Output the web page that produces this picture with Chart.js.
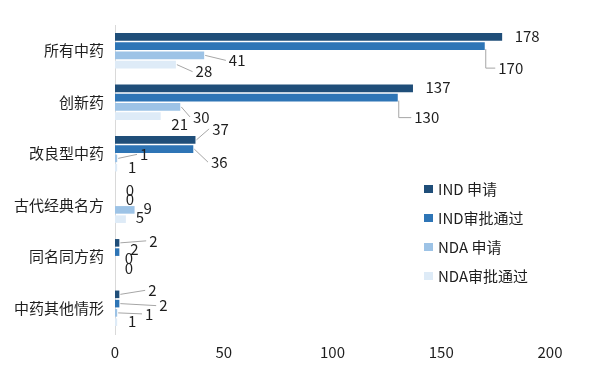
<!DOCTYPE html>
<html>
<head>
<meta charset="utf-8">
<script src="https://cdn.jsdelivr.net/npm/chart.js@4.4.0/dist/chart.umd.min.js"></script>
<style>
  html, body { margin: 0; padding: 0; background: #fff; }
  #wrap { width: 602px; height: 385px; position: relative; }
</style>
</head>
<body>
<div id="wrap"><canvas id="chart"></canvas></div>
<script>
// categorías y series
const categories = ['所有中药', '创新药', '改良型中药', '古代经典名方', '同名同方药', '中药其他情形'];
const seriesNames = ['IND 申请', 'IND审批通过', 'NDA 申请', 'NDA审批通过'];
const indApply = [178, 137, 37, 0, 2, 2];
const indApproved = [170, 130, 36, 0, 2, 2];
const ndaApply = [41, 30, 1, 9, 0, 1];
const ndaApproved = [28, 21, 1, 5, 0, 1];
const xTicks = [0, 50, 100, 150, 200];

const colors = ['#1f4e79', '#2e75b6', '#9dc3e6', '#deebf7'];

// desplazamiento de etiquetas [dx, dy, tipo de línea guía] (0 = nada, 1 = recta, 2 = codo)
const labelOffsets = [
    [[25, -1, 0], [25, -1, 0], [25, -11, 1], [15, -1, 0], [34, -2, 1], [33, -4, 1]],
    [[26, 22, 2], [29, 20, 2], [26, 13, 1], [15, -1, 0], [15, -3, 0], [44, 2, 1]],
    [[33, 5, 1], [21, 10, 1], [27, -4, 1], [13, -2, 0], [14, -3, 0], [32, 1, 1]],
    [[28, 7, 1], [19, 8, 0], [15, 0, 0], [14, -2, 0], [14, -2, 0], [15, -1, 0]]
];

const FONT = '"Noto Sans CJK SC", "Noto Sans", sans-serif';
const TEXT = '#1e1e1e';

const valueLabels = {
    id: 'valueLabels',
    afterDatasetsDraw(chart) {
        const c = chart.ctx;
        c.save();
        c.font = '15px ' + FONT;
        c.textBaseline = 'middle';
        c.textAlign = 'center';
        chart.data.datasets.forEach((ds, di) => {
            const meta = chart.getDatasetMeta(di);
            meta.data.forEach((bar, i) => {
                const [dx, dy, kind] = labelOffsets[di][i];
                const txt = String(ds.data[i]);
                const lx = bar.x + dx, ly = bar.y + dy;
                const w = c.measureText(txt).width;
                if (kind) {
                    c.strokeStyle = '#a6a6a6';
                    c.lineWidth = 1;
                    c.beginPath();
                    if (kind === 2) {
                        c.moveTo(bar.x + 1, bar.y + 3);
                        c.lineTo(bar.x + 1, ly);
                        c.lineTo(lx - w / 2 - 3, ly);
                    } else {
                        c.moveTo(bar.x + 1, bar.y);
                        c.lineTo(lx - w / 2 - 3, ly);
                    }
                    c.stroke();
                }
                c.fillStyle = TEXT;
                c.fillText(txt, lx, ly);
            });
        });
        c.restore();
    }
};

// leyenda dibujada a mano dentro del área
const sideLegend = {
    id: 'sideLegend',
    afterDraw(chart) {
        const c = chart.ctx;
        const x = chart.chartArea.right - 126;
        c.save();
        c.font = '15px ' + FONT;
        c.textBaseline = 'middle';
        c.textAlign = 'left';
        chart.data.datasets.forEach((ds, i) => {
            const y = 189 + i * 29;
            c.fillStyle = ds.backgroundColor;
            c.fillRect(x, y - 4, 9, 8);
            c.fillStyle = TEXT;
            c.fillText(ds.label, x + 14, y);
        });
        c.restore();
    }
};

new Chart(document.getElementById('chart'), {
    type: 'bar',
    data: {
        labels: categories,
        datasets: [indApply, indApproved, ndaApply, ndaApproved].map((d, i) => ({
            label: seriesNames[i],
            data: d,
            backgroundColor: colors[i],
            categoryPercentage: 0.72,
            barPercentage: 0.82
        }))
    },
    options: {
        indexAxis: 'y',
        responsive: true,
        maintainAspectRatio: false,
        animation: false,
        layout: { padding: { top: 25, right: 52, left: 0, bottom: 0 } },
        plugins: { legend: { display: false }, tooltip: { enabled: false } },
        scales: {
            x: {
                min: 0,
                max: 200,
                afterBuildTicks: s => { s.ticks = xTicks.map(v => ({ value: v })); },
                afterFit: s => { s.height = 51; },
                grid: { display: false, drawTicks: false },
                border: { display: false },
                ticks: { padding: 9, color: TEXT, font: { family: FONT, size: 15 } }
            },
            y: {
                afterFit: s => { s.width = 115; },
                grid: { display: false, drawTicks: false },
                border: { display: true, color: '#d9d9d9', width: 1 },
                ticks: { padding: 11, color: TEXT, font: { family: FONT, size: 15 } }
            }
        }
    },
    plugins: [valueLabels, sideLegend]
});
</script>
</body>
</html>
